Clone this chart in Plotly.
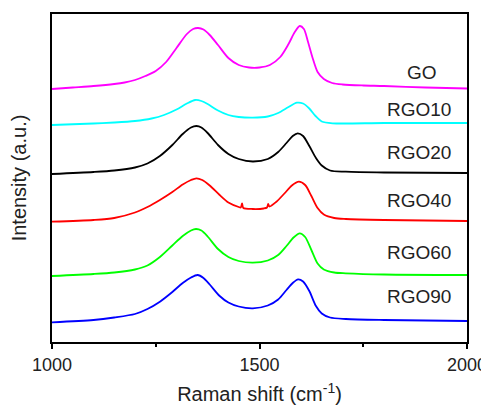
import plotly.graph_objects as go

# Raman shift (cm^-1) sample positions and offset intensities (a.u.)
go_x = [1000, 1050, 1100, 1150, 1175, 1200, 1225, 1250, 1275, 1300, 1325, 1340, 1352, 1365, 1380, 1400,
        1425, 1450, 1475, 1500, 1525, 1550, 1570, 1585, 1597, 1607, 1617, 1628, 1640, 1655, 1675, 1700,
        1750, 1800, 1900, 2000]
go_y = [253, 254.5, 256, 258, 259.5, 262, 266, 271, 280, 294, 308, 313, 314, 312.5, 307, 297,
        284, 277, 274.5, 274.5, 277, 285, 298, 310, 316, 313, 300, 284, 270, 263, 259, 257.5,
        256.5, 256, 254.5, 253.5]

rgo10_x = [1000, 1100, 1150, 1200, 1240, 1270, 1300, 1325, 1345, 1360, 1375, 1400, 1425, 1450, 1484,
           1520, 1545, 1570, 1590, 1605, 1620, 1635, 1650, 1676, 1800, 2000]
rgo10_y = [217, 218.5, 219.5, 221, 223.5, 227, 232.5, 238.5, 242, 241, 238, 231.5, 227, 225, 224.3,
           225.5, 229, 235, 239.3, 238.5, 233.5, 226, 220.5, 218.7, 219, 219]

rgo20_x = [1000, 1100, 1150, 1200, 1230, 1260, 1290, 1315, 1335, 1348, 1360, 1375, 1400, 1425, 1450,
           1484, 1520, 1545, 1565, 1580, 1592, 1605, 1620, 1636, 1650, 1670, 1708, 1800, 2000]
rgo20_y = [168, 170, 171.5, 174.5, 178.5, 186, 197, 208, 214.5, 216, 214.5, 209, 197, 188, 183,
           180.5, 183, 190, 199, 206, 208.7, 206, 196, 184, 176.5, 171.5, 170.3, 169.5, 169]

rgo40_x = [1000, 1100, 1150, 1200, 1230, 1260, 1290, 1315, 1335, 1348, 1362, 1380, 1404, 1425, 1450,
           1455, 1458, 1461, 1484, 1510, 1518, 1521, 1524, 1540, 1560, 1578, 1595, 1610, 1625, 1640,
           1655, 1680, 1708, 1800, 2000]
rgo40_y = [120.3, 122, 124, 129.5, 135, 142, 150, 157.5, 162, 163.7, 162, 156.5, 147, 139.5, 135,
           134.5, 138.5, 134, 133, 133.5, 134.5, 138, 135.5, 140, 148.5, 156.5, 160.3, 157, 146, 134,
           127.5, 124, 123, 122, 121]

rgo60_x = [1000, 1100, 1150, 1200, 1230, 1260, 1290, 1315, 1335, 1347, 1360, 1375, 1400, 1425, 1450,
           1484, 1520, 1545, 1565, 1582, 1597, 1610, 1625, 1640, 1655, 1680, 1708, 1800, 2000]
rgo60_y = [66, 68, 69.5, 72.5, 76.5, 85, 96.5, 106, 111.5, 113, 111.5, 105.5, 93, 85, 81,
           79.3, 81.5, 87, 96, 104.5, 108.7, 105, 92, 78.5, 72.5, 69.5, 68.7, 67.5, 67]

rgo90_x = [1000, 1100, 1150, 1200, 1230, 1260, 1290, 1315, 1335, 1351, 1365, 1380, 1404, 1425, 1450,
           1484, 1520, 1545, 1565, 1580, 1593, 1605, 1620, 1636, 1650, 1670, 1708, 1800, 2000]
rgo90_y = [19.7, 22, 24.5, 28, 33, 40.3, 50, 59, 64.5, 67, 64, 57.5, 46, 39.5, 35.5,
           33.7, 36.5, 42.5, 52, 59, 62.7, 60.5, 51, 36, 28.5, 24.5, 23, 22, 21]

series_names = ["GO", "RGO10", "RGO20", "RGO40", "RGO60", "RGO90"]
series_x = [go_x, rgo10_x, rgo20_x, rgo40_x, rgo60_x, rgo90_x]
series_y = [go_y, rgo10_y, rgo20_y, rgo40_y, rgo60_y, rgo90_y]
colors = ["#FF00FF", "#00FFFF", "#000000", "#FF0000", "#00FF00", "#0000FF"]

x_ticks = [1000, 1500, 2000]

fig = go.Figure()
for name, xs, ys, c in zip(series_names, series_x, series_y, colors):
    fig.add_trace(go.Scatter(x=xs, y=ys, mode="lines", name=name,
                             line=dict(color=c, width=1.8, shape="spline", smoothing=0.8)))

label_pos = {"GO": (1933, 270), "RGO10": (1966, 233), "RGO20": (1966, 190),
             "RGO40": (1966, 142), "RGO60": (1966, 90), "RGO90": (1966, 46)}
for name in series_names:
    lx, ly = label_pos[name]
    fig.add_annotation(x=lx, y=ly, text=name, showarrow=False, xanchor="right", yanchor="middle",
                       font=dict(size=19, color="#222222"))

font = "Liberation Sans, Arial, sans-serif"
fig.update_layout(
    width=481, height=397,
    margin=dict(l=44, r=22, t=6, b=63),
    paper_bgcolor="white", plot_bgcolor="white",
    showlegend=False,
    font=dict(family=font, size=18, color="#222222"),
    xaxis=dict(range=[1000, 2000], tickvals=x_ticks, ticktext=[str(v) for v in x_ticks],
               ticks="outside", ticklen=5, tickwidth=2, tickcolor="black",
               minor=dict(tickvals=[1250, 1750], ticks="outside", ticklen=3, tickwidth=2, tickcolor="black"),
               showline=True, linecolor="black", linewidth=2, mirror=True,
               showgrid=False, zeroline=False, automargin=False,
               title=dict(text="Raman shift (cm<sup>-1</sup>)", font=dict(size=20), standoff=14),
               tickfont=dict(size=18)),
    yaxis=dict(range=[0, 328], showticklabels=False, ticks="",
               showline=True, linecolor="black", linewidth=2, mirror=True,
               showgrid=False, zeroline=False, automargin=False,
               title=dict(text="Intensity (a.u.)", font=dict(size=20), standoff=22)),
)

fig.write_html("out.html")
